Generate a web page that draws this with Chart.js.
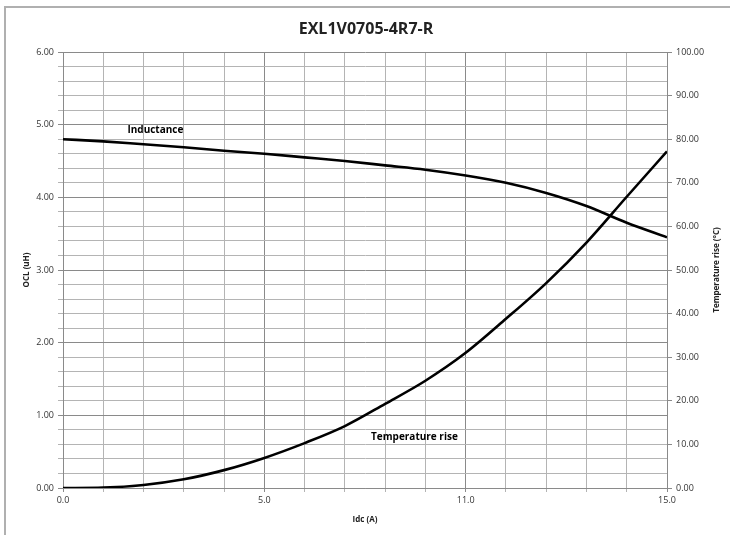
<!DOCTYPE html>
<html>
<head>
<meta charset="utf-8">
<script src="https://cdn.jsdelivr.net/npm/chart.js@4/dist/chart.umd.min.js"></script>
<style>
  html, body { margin: 0; padding: 0; background: #fff; overflow: hidden; }
  #wrap { position: relative; width: 730px; height: 535px; }
  #frame { position: absolute; left: 4px; top: 6px; width: 740px; height: 560px;
           border-left: 2px solid #b0b0b0; border-top: 2px solid #b0b0b0; pointer-events: none; }
</style>
</head>
<body>
<div id="wrap">
  <canvas id="grafico" width="730" height="535"></canvas>
  <div id="frame"></div>
</div>
<script>
// Idc (A)
const corriente = [0, 1, 2, 3, 4, 5, 6, 7, 8, 9, 10, 11, 12, 13, 14, 15];
// OCL (uH)
const inductancia = [4.80, 4.77, 4.73, 4.69, 4.64, 4.60, 4.55, 4.50, 4.44, 4.38, 4.30, 4.20, 4.06, 3.88, 3.65, 3.45];
// Temperature rise (°C)
const temperatura = [0, 0.1, 0.7, 2.0, 4.1, 6.9, 10.3, 14.2, 19.3, 24.6, 31.0, 38.8, 47.0, 56.3, 66.8, 77.2];

const xTickLabels = { 0: "0.0", 5: "5.0", 10: "11.0", 15: "15.0" };
const titulo = "EXL1V0705-4R7-R";
const tituloIzq = "OCL (uH)";
const tituloDer = "Temperature rise (°C)";

const fuente = "'Open Sans', 'DejaVu Sans', sans-serif";

const canvas = document.querySelector('#grafico');

// series labels inside the plot + both y axis titles (read bottom to top)
const etiquetas = {
  id: 'etiquetas',
  afterDraw(chart) {
    const ctx = chart.ctx;
    const x = chart.scales.x, yL = chart.scales.y, yR = chart.scales.y1;
    const area = chart.chartArea;
    const midY = (area.top + area.bottom) / 2;
    ctx.save();
    ctx.fillStyle = '#000';
    ctx.font = "bold 10px " + fuente;
    ctx.textAlign = 'left';
    ctx.textBaseline = 'middle';
    ctx.fillText('Inductance', x.getPixelForValue(1.6), yL.getPixelForValue(4.93));
    ctx.fillText('Temperature rise', x.getPixelForValue(7.65), yR.getPixelForValue(11.7));

    ctx.fillStyle = '#222';
    ctx.font = "bold 8px " + fuente;
    ctx.textAlign = 'center';
    ctx.save();
    ctx.translate(area.left - 36, midY);
    ctx.rotate(-Math.PI / 2);
    ctx.fillText(tituloIzq, 0, 0);
    ctx.restore();
    ctx.save();
    ctx.translate(area.right + 50, midY);
    ctx.rotate(-Math.PI / 2);
    ctx.fillText(tituloDer, 0, 0);
    ctx.restore();
    ctx.restore();
  }
};

const config = {
  type: 'line',
  data: {
    labels: corriente,
    datasets: [{
      label: 'Inductance',
      data: corriente.map((c, i) => ({ x: c, y: inductancia[i] })),
      borderColor: '#000',
      borderWidth: 2.6,
      pointRadius: 0,
      cubicInterpolationMode: 'monotone',
      yAxisID: 'y'
    }, {
      label: 'Temperature rise',
      data: corriente.map((c, i) => ({ x: c, y: temperatura[i] })),
      borderColor: '#000',
      borderWidth: 2.6,
      pointRadius: 0,
      cubicInterpolationMode: 'monotone',
      yAxisID: 'y1'
    }]
  },
  options: {
    responsive: false,
    animation: false,
    layout: { padding: { left: 8, right: 6, top: 10, bottom: 6 } },
    plugins: {
      legend: { display: false },
      tooltip: { enabled: false },
      title: {
        display: true,
        text: titulo,
        color: '#222',
        font: { family: fuente, size: 16, weight: 'bold' },
        padding: { top: 10, bottom: 12.8 }
      }
    },
    scales: {
      x: {
        type: 'linear',
        min: 0, max: 15,
        ticks: {
          stepSize: 1,
          autoSkip: false,
          maxRotation: 0,
          color: '#333',
          font: { family: fuente, size: 9 },
          padding: 3,
          callback: (v) => xTickLabels[v] !== undefined ? xTickLabels[v] : ''
        },
        grid: {
          color: (c) => (c.tick && c.tick.value % 5 === 0) ? '#8a8a8a' : '#b4b4b4',
          lineWidth: 1,
          tickLength: 4
        },
        border: { color: '#8a8a8a' },
        title: {
          display: true, text: 'Idc (A)', color: '#222',
          font: { family: fuente, size: 8, weight: 'bold' }, padding: { top: 3 }
        },
        afterFit: (s) => { s.height = 41; }
      },
      y: {
        position: 'left',
        min: 0, max: 6,
        ticks: {
          stepSize: 0.2,
          autoSkip: false,
          color: '#333',
          font: { family: fuente, size: 9 },
          padding: 4,
          callback: (v) => Math.abs(v - Math.round(v)) < 1e-6 ? v.toFixed(2) : ''
        },
        grid: {
          color: (c) => (c.tick && Math.abs(c.tick.value - Math.round(c.tick.value)) < 1e-6) ? '#8a8a8a' : '#b4b4b4',
          lineWidth: 1,
          tickLength: 5
        },
        border: { color: '#8a8a8a' },
        afterFit: (s) => { s.width = 55; }
      },
      y1: {
        position: 'right',
        min: 0, max: 100,
        ticks: {
          stepSize: 10,
          color: '#333',
          font: { family: fuente, size: 9 },
          padding: 4,
          callback: (v) => v.toFixed(2)
        },
        grid: { drawOnChartArea: false, color: '#8a8a8a', tickLength: 5 },
        border: { color: '#8a8a8a' },
        afterFit: (s) => { s.width = 57; }
      }
    }
  },
  plugins: [etiquetas]
};

let myChart = new Chart(canvas, config);
</script>
</body>
</html>
